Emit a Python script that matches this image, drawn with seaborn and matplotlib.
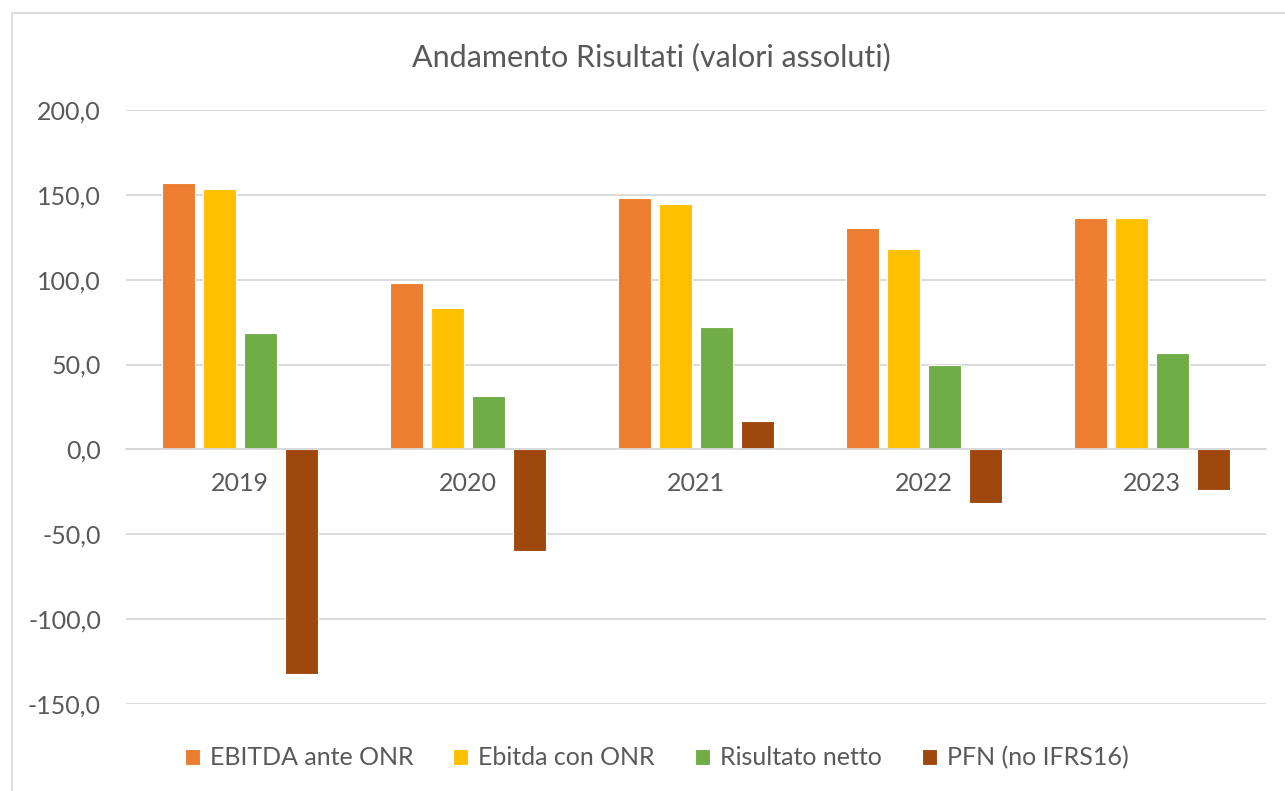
import matplotlib
matplotlib.use("Agg")
import matplotlib.pyplot as plt
import matplotlib.ticker as mticker
from matplotlib.patches import Rectangle
import pandas as pd
import seaborn as sns

years = ["2019", "2020", "2021", "2022", "2023"]
series = ["EBITDA ante ONR", "Ebitda con ONR", "Risultato netto", "PFN (no IFRS16)"]
ebitda_ante = [157.2, 98.0, 148.3, 130.5, 136.6]
ebitda_con = [153.5, 83.2, 144.6, 118.2, 136.1]
risultato = [68.5, 31.6, 72.4, 49.8, 56.9]
pfn = [-132.2, -59.7, 16.5, -31.5, -23.8]
colors = ["#ED7D31", "#FFC000", "#70AD47", "#9E480E"]

rows = []
for name, vals in zip(series, [ebitda_ante, ebitda_con, risultato, pfn]):
    for y, v in zip(years, vals):
        rows.append({"anno": y, "serie": name, "valore": v})
df = pd.DataFrame(rows)

sns.set_style("white")
plt.rcParams["font.family"] = ["Lato", "DejaVu Sans"]
text_col = "#595959"

fig = plt.figure(figsize=(12.85, 7.91), dpi=100)
ax = fig.add_axes([0.098, 0.110, 0.887, 0.751])

sns.barplot(data=df, x="anno", y="valore", hue="serie", palette=colors,
            saturation=1, width=0.72, gap=0.2, edgecolor="white",
            linewidth=0.8, ax=ax, zorder=3)

ax.set_ylim(-150, 200)
ax.set_yticks(range(-150, 201, 50))
ax.yaxis.set_major_formatter(mticker.FuncFormatter(lambda v, p: f"{v:.1f}".replace(".", ",")))
ax.grid(axis="y", color="#D9D9D9", linewidth=1.3, zorder=0)
ax.set_xlabel("")
ax.set_ylabel("")
for s in ["top", "right", "left"]:
    ax.spines[s].set_visible(False)
ax.spines["bottom"].set_position(("data", 0))
ax.spines["bottom"].set_color("#D9D9D9")
ax.spines["bottom"].set_linewidth(1.3)
ax.spines["bottom"].set_zorder(4)
ax.tick_params(axis="y", length=0, pad=18, labelsize=18, labelcolor=text_col)
ax.tick_params(axis="x", length=0, pad=16, labelsize=18, labelcolor=text_col)

ax.legend_.remove()
handles, labels = ax.get_legend_handles_labels()
fig.legend(handles, labels, loc="center", bbox_to_anchor=(0.511, 0.042), ncol=4,
           frameon=False, fontsize=18, labelcolor=text_col, handlelength=0.6,
           handleheight=0.6, handletextpad=0.4, columnspacing=1.6)

fig.text(0.507, 0.928, "Andamento Risultati (valori assoluti)", ha="center",
         va="center", fontsize=22, color=text_col)

fig.patches.append(Rectangle((12 / 1285, -0.01), 1.1, 1 - 13 / 791 + 0.01,
                             transform=fig.transFigure, fill=False,
                             edgecolor="#D9D9D9", linewidth=1.3))

fig.savefig("out.png", dpi=100)
